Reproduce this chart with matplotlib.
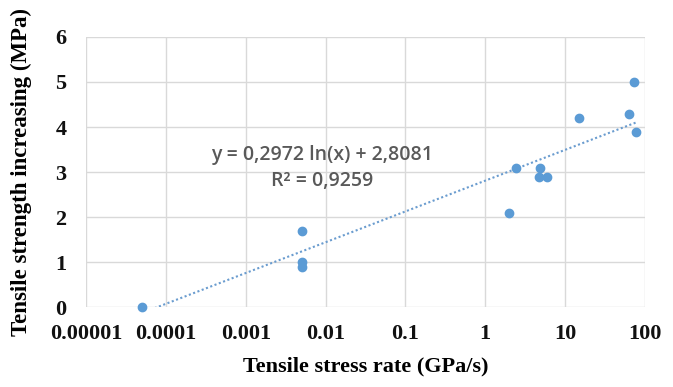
import numpy as np
import matplotlib.pyplot as plt
from matplotlib.ticker import FixedLocator, FixedFormatter, NullLocator

# -----------------------------
# Data
# -----------------------------
rate = [5e-5, 0.005, 0.005, 0.005, 2.0, 2.45, 4.9, 4.7, 6.0, 15, 63, 73, 77]
strength = [0.0, 1.7, 1.0, 0.9, 2.1, 3.1, 3.1, 2.9, 2.9, 4.2, 4.3, 5.0, 3.9]

# log trendline from the chart
slope = 0.2972
intercept = 2.8081
r2 = 0.9259

xticks = [1e-5, 1e-4, 1e-3, 1e-2, 1e-1, 1, 10, 100]
xtick_labels = ["0.00001", "0.0001", "0.001", "0.01", "0.1", "1", "10", "100"]
yticks = [0, 1, 2, 3, 4, 5, 6]

blue = "#5b9bd5"
grid_c = "#d9d9d9"
serif = "Liberation Serif"

# -----------------------------
# Plot
# -----------------------------
fig = plt.figure(figsize=(6.73, 3.87), dpi=100)
ax = fig.add_axes([0.1278, 0.2067, 0.8306, 0.6977])

ax.set_xscale("log")
ax.set_xlim(1e-5, 100)
ax.set_ylim(0, 6)

xs = np.logspace(np.log10(min(rate)), np.log10(max(rate)), 200)
ax.plot(xs, slope * np.log(xs) + intercept, linestyle=(0, (1, 1.2)),
        color="#6a9ccf", lw=1.5, zorder=2)
ax.scatter(rate, strength, s=36, color=blue, zorder=3, clip_on=False)

ax.xaxis.set_major_locator(FixedLocator(xticks))
ax.xaxis.set_major_formatter(FixedFormatter(xtick_labels))
ax.xaxis.set_minor_locator(NullLocator())
ax.set_yticks(yticks)

ax.grid(True, color=grid_c, lw=1)
ax.set_axisbelow(True)
for s in ax.spines.values():
    s.set_visible(False)
ax.tick_params(length=0, labelsize=16)
ax.tick_params(axis="x", pad=12)
ax.tick_params(axis="y", pad=14)
for lab in ax.get_xticklabels() + ax.get_yticklabels():
    lab.set_fontfamily(serif)
    lab.set_fontweight("bold")
    lab.set_color("#111111")

ax.set_xlabel("Tensile stress rate (GPa/s)", fontfamily=serif,
              fontweight="bold", fontsize=16, labelpad=9)
ax.set_ylabel("Tensile strength increasing (MPa)", fontfamily=serif,
              fontweight="bold", fontsize=16.5, labelpad=17)

ax.text(0.422, 0.515, "y = 0,2972 ln(x) + 2,8081\nR² = 0,9259",
        transform=ax.transAxes, ha="center", va="center",
        fontfamily="Open Sans", fontweight="semibold", fontsize=14,
        color="#595959", linespacing=1.35)

plt.savefig("out.png", dpi=100)
